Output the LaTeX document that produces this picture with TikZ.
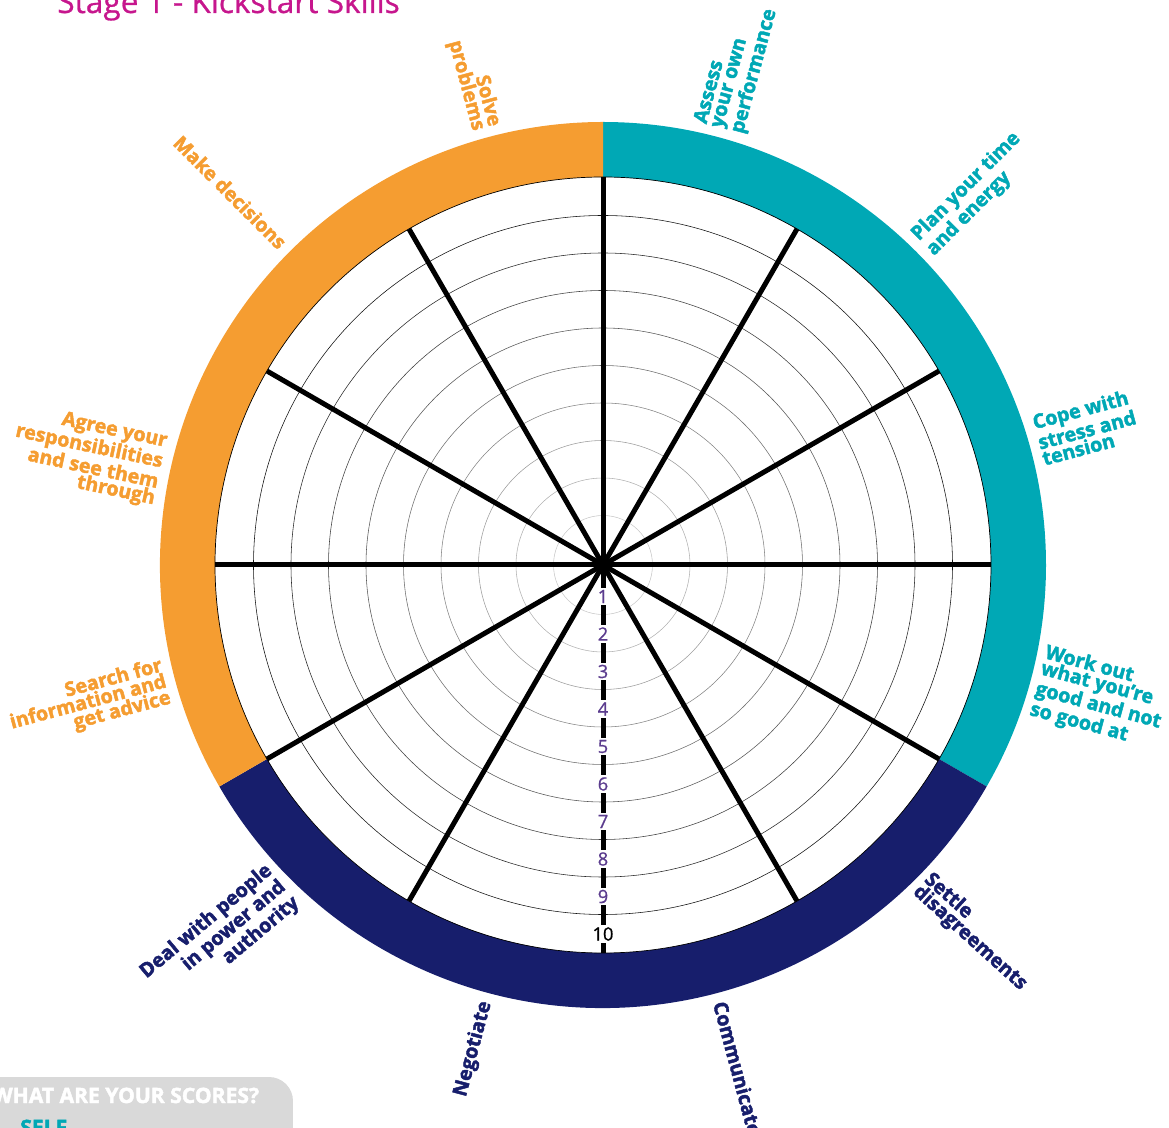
\documentclass[tikz,border=0pt]{standalone}
\usepackage{fontspec}
\setmainfont{Open Sans}[BoldFeatures={FakeBold=2.2}]
\newfontfamily\headface{Open Sans}[FakeBold=0.8]
\usepackage{xcolor}
\usepackage{tikz}

\definecolor{wheelteal}{RGB}{0,168,181}
\definecolor{wheelorange}{RGB}{245,157,49}
\definecolor{wheelnavy}{RGB}{23,30,108}
\definecolor{titlepink}{RGB}{198,22,141}
\definecolor{scorepurple}{RGB}{91,60,142}
\definecolor{boxgrey}{RGB}{217,217,217}
\newcommand{\skillfont}{\fontsize{14}{11.8}\selectfont\bfseries}

\begin{document}
\begin{tikzpicture}[
      x=0.025cm, y=0.025cm,
      spoke/.style={line width=0.125cm},
      score/.style={fill=white, inner sep=1.5pt, font=\headface\fontsize{13}{13}\selectfont, text=scorepurple},
      rskill/.style={anchor=west, align=left, inner sep=0pt, font=\skillfont},
      lskill/.style={anchor=east, align=right, inner sep=0pt, font=\skillfont}
    ]
    \useasboundingbox (-603,-563) rectangle (566,565);
    \coordinate (hub) at (0,0);

    % Title
    \node[anchor=base west, inner sep=0pt, text=titlepink, font=\headface\fontsize{22.5}{26}\selectfont] (title) at (-546,552) {Stage 1 - Kickstart Skills};

    % Coloured ring
    \fill[wheelteal] (90:443) arc[start angle=90, end angle=-30, radius=443] -- (-30:388) arc[start angle=-30, end angle=90, radius=388] -- cycle;
    \fill[wheelnavy] (-30:443) arc[start angle=-30, end angle=-150, radius=443] -- (-150:388) arc[start angle=-150, end angle=-30, radius=388] -- cycle;
    \fill[wheelorange] (-150:443) arc[start angle=-150, end angle=-270, radius=443] -- (90:388) arc[start angle=90, end angle=210, radius=388] -- cycle;
    \draw[line width=0.5pt] (hub) circle[radius=388];

    % Score circles
    \foreach \k in {1,...,9} {
      \pgfmathtruncatemacro{\tone}{12+9*\k}
      \draw[line width=0.4pt, black!\tone] (hub) circle[radius={12+37.5*\k}];
    }

    % Spokes
    \foreach \a in {0,30,...,330}
      \draw[spoke] (hub) -- (\a:388);

    % Scale along the bottom spoke
    \foreach \k in {1,...,9}
      \node[score] (score\k) at (-90:{37.5*\k-6}) {\k};
    \node[score, text=black] (score10) at (-90:369) {10};

    % Skill labels
    \node[rskill, text=wheelteal, rotate=75] (assess) at (75:452) {Assess\\your own\\performance};
    \node[rskill, text=wheelteal, rotate=45] (plan) at (45:452) {Plan your time\\and energy};
    \node[rskill, text=wheelteal, rotate=15] (cope) at (16:452) {Cope with\\stress and\\tension};
    \node[rskill, text=wheelteal, rotate=-15] (workout) at (-15:450) {Work out\\what you're\\good and not\\so good at};
    \node[rskill, text=wheelnavy, rotate=-42] (settle) at (-45:450) {Settle\\disagreements};
    \node[rskill, text=wheelnavy, rotate=-75] (communicate) at (-75:452) {Communicate};
    \node[lskill, text=wheelnavy, rotate=75] (negotiate) at (-105:452) {Negotiate};
    \node[lskill, text=wheelnavy, rotate=40] (deal) at (-135:452) {Deal with people\\in power and\\authority};
    \node[lskill, text=wheelorange, rotate=15] (search) at (-165:452) {Search for\\information and\\get advice};
    \node[lskill, text=wheelorange, rotate=-12] (agree) at (168:452) {Agree your\\responsibilities\\and see them\\through};
    \node[lskill, text=wheelorange, rotate=-45] (decide) at (135:452) {Make decisions};
    \node[lskill, text=wheelorange, rotate=-75] (solve) at (105:452) {Solve\\problems};

    % Scores box
    \fill[boxgrey, rounded corners=0.6cm] (-640,-600) rectangle (-310,-512);
    \node[anchor=base west, inner sep=0pt, text=white, font=\fontsize{15}{16}\selectfont\bfseries] (scores) at (-611,-538) {WHAT ARE YOUR SCORES?};
    \node[anchor=base west, inner sep=0pt, text=wheelteal, font=\fontsize{15}{16}\selectfont\bfseries] (self) at (-583,-570) {SELF};

  \end{tikzpicture}
\end{document}
